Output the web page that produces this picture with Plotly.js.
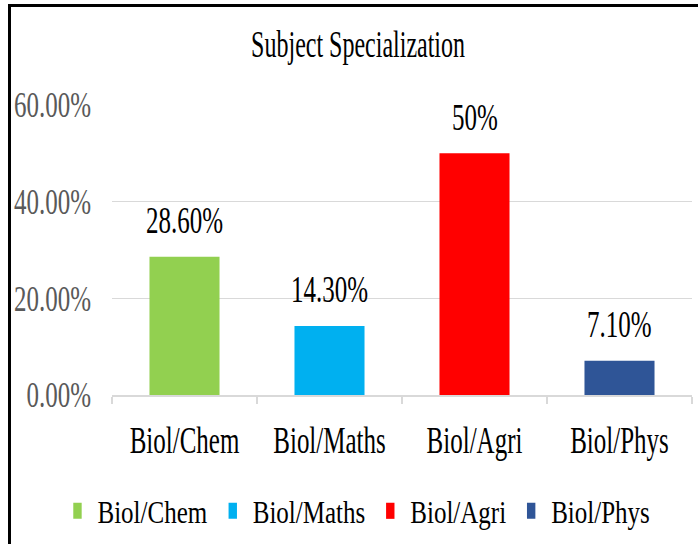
<!DOCTYPE html>
<html>
<head>
<meta charset="utf-8">
<script src="https://cdn.plot.ly/plotly-3.0.1.min.js"></script>
<style>
  html, body { margin: 0; padding: 0; background: #fff; width: 698px; height: 544px; overflow: hidden; }
  #frame { position: absolute; left: 8px; top: 4px; width: 720px; height: 580px; border-left: 3px solid #000; border-top: 3px solid #000; box-sizing: border-box; }
  #chart { position: absolute; left: 0; top: 0; width: 698px; height: 544px; }
</style>
</head>
<body>
<div id="frame"></div>
<div id="chart"></div>
<script>
const categories = ["Biol/Chem", "Biol/Maths", "Biol/Agri", "Biol/Phys"];
const values = [28.6, 14.3, 50, 7.1];
const valueLabels = ["28.60%", "14.30%", "50%", "7.10%"];
const colors = ["#92D050", "#00B0F0", "#FF0000", "#2F5597"];
const yTicks = [0, 20, 40, 60];
const yTickLabels = ["0.00%", "20.00%", "40.00%", "60.00%"];

const FONT = "Liberation Serif";

const traces = categories.map((c, i) => ({
  type: "bar",
  x: [c],
  y: [values[i]],
  name: c,
  marker: { color: colors[i] },
  hoverinfo: "skip"
}));

const annotations = categories.map((c, i) => ({
  x: c,
  y: values[i],
  xref: "x",
  yref: "y",
  text: valueLabels[i],
  showarrow: false,
  yanchor: "middle",
  yshift: 36,
  font: { family: FONT, size: 25, color: "#000" }
}));

const layout = {
  width: 698,
  height: 544,
  paper_bgcolor: "rgba(0,0,0,0)",
  plot_bgcolor: "rgba(0,0,0,0)",
  margin: { l: 112, r: 6, t: 105, b: 149 },
  barmode: "overlay",
  bargap: 0.517,
  title: {
    text: "Subject Specialization",
    font: { family: FONT, size: 24, color: "#000" },
    xref: "container", x: 0.513, xanchor: "center",
    yref: "container", y: 0.919, yanchor: "middle"
  },
  xaxis: {
    type: "category",
    categoryorder: "array",
    categoryarray: categories,
    tickson: "boundaries",
    ticks: "outside",
    ticklen: 7,
    tickcolor: "#d9d9d9",
    tickwidth: 1.5,
    showline: true,
    linecolor: "#d9d9d9",
    linewidth: 1.5,
    showgrid: false,
    ticklabelstandoff: 22,
    tickfont: { family: FONT, size: 25, color: "#000" }
  },
  yaxis: {
    range: [0, 60],
    tickmode: "array",
    tickvals: yTicks,
    ticktext: yTickLabels,
    showgrid: true,
    gridcolor: "#d9d9d9",
    gridwidth: 1.5,
    zeroline: false,
    showline: false,
    ticks: "",
    ticklabelstandoff: 20,
    tickfont: { family: FONT, size: 25, color: "#595959" }
  },
  showlegend: true,
  legend: {
    orientation: "h",
    x: -0.094,
    xanchor: "left",
    y: -0.4,
    yanchor: "middle",
    font: { family: FONT, size: 25, color: "#000" },
    itemwidth: 30,
    bgcolor: "rgba(0,0,0,0)"
  },
  annotations: annotations
};

function stretch(sel, s) {
  document.querySelectorAll("#chart " + sel).forEach(el => {
    const b = el.getBBox();
    const cy = b.y + b.height / 2;
    const t = el.getAttribute("transform") || "";
    el.setAttribute("transform", t + " translate(0," + cy + ") scale(1," + s + ") translate(0," + (-cy) + ")");
  });
}

Plotly.newPlot("chart", traces, layout, { displayModeBar: false, staticPlot: true }).then(() => {
  stretch(".gtitle", 1.55);
  stretch(".xtick text", 1.5);
  stretch(".ytick text", 1.42);
  stretch(".annotation-text", 1.48);
  stretch(".legendtext", 1.3);
  document.querySelectorAll("#chart .legend .traces .legendpoints").forEach(el => {
    const t = el.getAttribute("transform") || "";
    el.setAttribute("transform", t + " translate(20,0) scale(0.7,1.35) translate(-20,0)");
  });
});
</script>
</body>
</html>
